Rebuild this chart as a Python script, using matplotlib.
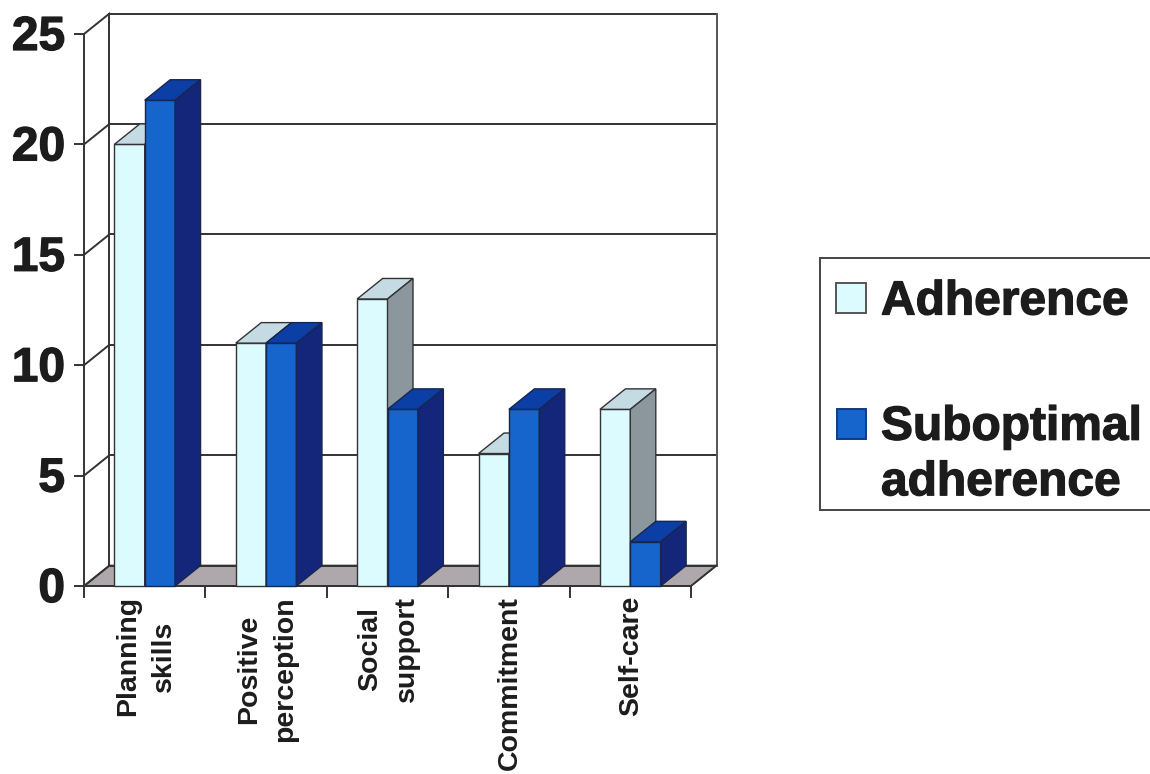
import matplotlib
matplotlib.use("Agg")
import matplotlib.pyplot as plt
import matplotlib.patheffects as pe
from matplotlib.patches import Rectangle

# veriler
categories = ["Planning\nskills", "Positive\nperception", "Social\nsupport", "Commitment", "Self-care"]
adherence = [20, 11, 13, 6, 8]
suboptimal = [22, 11, 8, 8, 2]
y_ticks = [0, 5, 10, 15, 20, 25]
legend_labels = ["Adherence", "Suboptimal\nadherence"]

# renkler: on yuz, ust yuz, yan yuz
adh_colors = ("#dcfbff", "#c4dbe3", "#8b979c")
sub_colors = ("#1565cc", "#0c3fa6", "#14267a")
floor_color = "#aea8ad"
line_color = "#333333"
text_color = "#1c1c1c"

# sayfa boyutu ve eksen olcegi (piksel)
W, H = 1150, 774
x0_px, x_unit = 84.0, 121.4
y0_px, y_unit = 586.0, 22.08

# derinlik kaymasi, veri biriminde
depth_x = 25.5 / x_unit
depth_y = 20.5 / y_unit
bar_w = 0.25
bar_start = 0.25

plt.rcParams["font.family"] = ["Liberation Sans", "DejaVu Sans"]
plt.rcParams["font.weight"] = "bold"

# yazilari biraz kalinlastirmak icin
heavy = [pe.withStroke(linewidth=0.9, foreground=text_color)]

fig = plt.figure(figsize=(W / 100, H / 100), dpi=100, facecolor="white")
ax = fig.add_axes([0, 0, 1, 1])
ax.set_xlim(-x0_px / x_unit, (W - x0_px) / x_unit)
ax.set_ylim(-(H - y0_px) / y_unit, y0_px / y_unit)
ax.axis("off")

n = len(categories)
top = y_ticks[-1]

# zemin
ax.fill([0, n, n + depth_x, depth_x], [0, 0, depth_y, depth_y],
        facecolor=floor_color, edgecolor=line_color, linewidth=1.2, zorder=1)

# arka duvar, sol duvar ve yatay cizgiler
for v in y_ticks:
    ax.plot([depth_x, n + depth_x], [v + depth_y, v + depth_y], color=line_color, lw=1.4, zorder=1)
    ax.plot([0, depth_x], [v, v + depth_y], color=line_color, lw=1.4, zorder=1)
    ax.plot([-9 / x_unit, 0], [v, v], color=line_color, lw=1.4, zorder=1)
    ax.text(-19 / x_unit, v - 3.5 / y_unit, str(v), ha="right", va="center", fontsize=34.5,
            fontweight="bold", color=text_color, path_effects=heavy)

ax.plot([0, 0], [0, top], color=line_color, lw=1.4, zorder=1)
ax.plot([depth_x, depth_x], [depth_y, top + depth_y], color=line_color, lw=1.4, zorder=1)
ax.plot([n + depth_x, n + depth_x], [depth_y, top + depth_y], color="#555555", lw=1.4, zorder=1)
ax.plot([n, n + depth_x], [0, depth_y], color=line_color, lw=1.2, zorder=1)

# x ekseni ve tikler
ax.plot([0, n], [0, 0], color=line_color, lw=1.4, zorder=1)
for i in range(n + 1):
    ax.plot([i, i], [0, -11 / y_unit], color=line_color, lw=1.4, zorder=1)


def draw_bar(x, value, colors, edge, z):
    # uc boyutlu gorunum icin on, ust ve yan yuz
    front, upper, side = colors
    ax.bar(x, value, width=bar_w, align="edge", color=front,
           edgecolor=edge, linewidth=1.0, zorder=z)
    ax.fill([x, x + bar_w, x + bar_w + depth_x, x + depth_x],
            [value, value, value + depth_y, value + depth_y],
            facecolor=upper, edgecolor=edge, linewidth=1.0, zorder=z)
    ax.fill([x + bar_w, x + bar_w + depth_x, x + bar_w + depth_x, x + bar_w],
            [0, depth_y, value + depth_y, value],
            facecolor=side, edgecolor=edge, linewidth=1.0, zorder=z)


z = 2
for i in range(n):
    draw_bar(i + bar_start, adherence[i], adh_colors, line_color, z)
    draw_bar(i + bar_start + bar_w, suboptimal[i], sub_colors, "#16264f", z + 1)
    z += 2

    # kategori etiketleri
    ax.text(i + 0.5 + 1 / x_unit, -10 / y_unit, categories[i], rotation=90, ha="center", va="top",
            multialignment="center", fontsize=20.5, fontweight="bold",
            color=text_color, linespacing=1.5)


def px(x, y):
    # piksel konumunu sekil koordinatina cevirir
    return x / W, 1 - y / H


# lejant kutusu
lx, ly = px(820, 510)
fig.add_artist(Rectangle((lx, ly), 340 / W, 252 / H, transform=fig.transFigure,
                         facecolor="white", edgecolor="#444444", linewidth=1.4))

sx, sy = px(836, 313)
fig.add_artist(Rectangle((sx, sy), 30 / W, 30 / H, transform=fig.transFigure,
                         facecolor=adh_colors[0], edgecolor="#555555", linewidth=1.4))
sx, sy = px(837, 439)
fig.add_artist(Rectangle((sx, sy), 29 / W, 30 / H, transform=fig.transFigure,
                         facecolor=sub_colors[0], edgecolor="#123a80", linewidth=1.4))

tx, ty = px(881, 302)
fig.text(tx, ty, legend_labels[0], ha="left", va="center", fontsize=34.5,
         fontweight="bold", color=text_color, path_effects=heavy)
tx, ty = px(881, 455)
fig.text(tx, ty, legend_labels[1], ha="left", va="center", fontsize=34.5,
         fontweight="bold", color=text_color, linespacing=1.3, path_effects=heavy)

fig.savefig("out.png", dpi=100)
